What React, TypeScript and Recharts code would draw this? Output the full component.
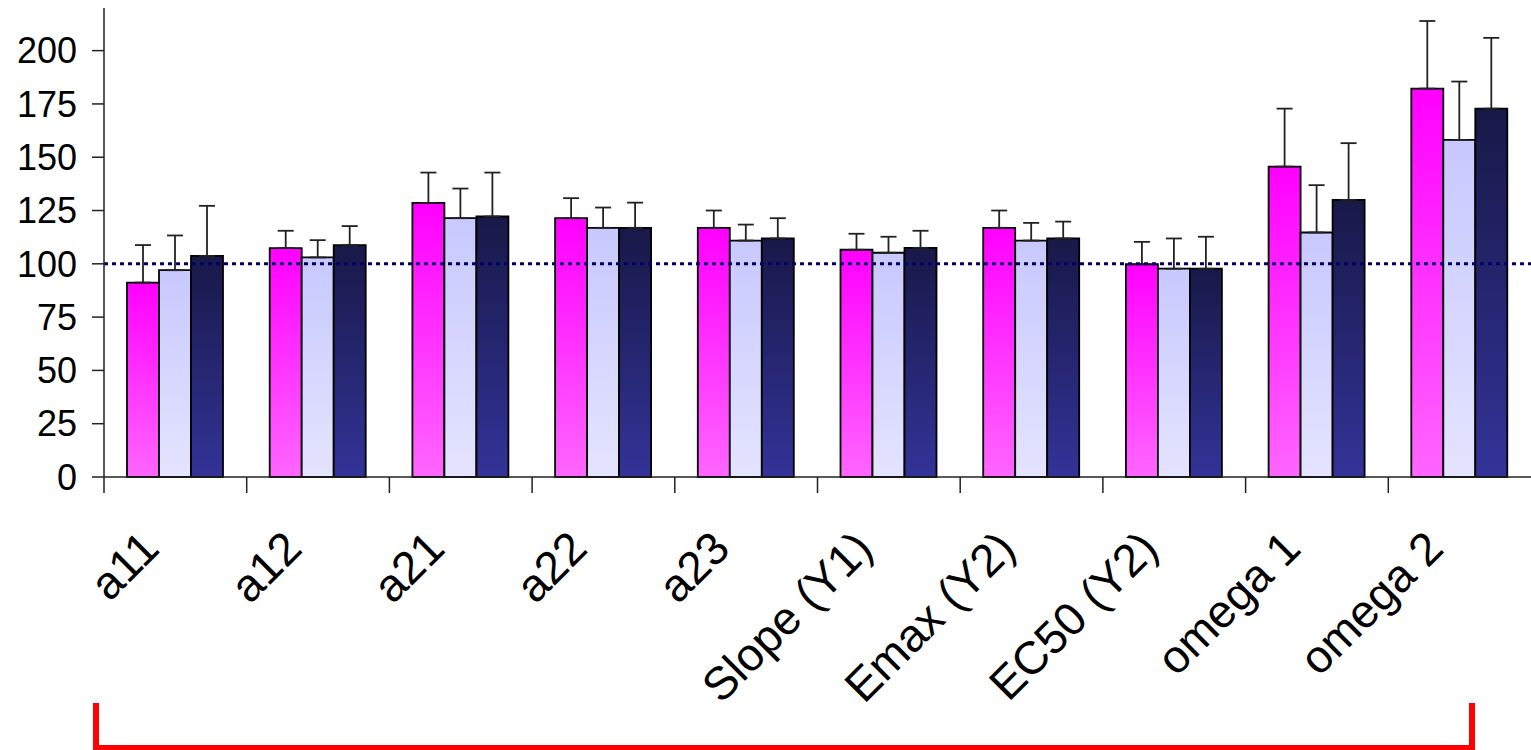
import React from "react"
import { BarChart, Bar, XAxis, YAxis, ErrorBar, ReferenceLine } from "recharts"

const categories = ["a11", "a12", "a21", "a22", "a23", "Slope (Y1)", "Emax (Y2)", "EC50 (Y2)", "omega 1", "omega 2"]

const pinkValues = [91.2, 107.4, 128.6, 121.4, 116.9, 106.6, 116.9, 99.8, 145.6, 182.2]
const pinkErrors = [17.6, 8.1, 14.2, 9.4, 8.1, 7.5, 8.1, 10.5, 27.2, 31.7]

const lilacValues = [97.0, 103.0, 121.4, 116.9, 110.9, 105.2, 110.9, 97.7, 114.7, 158.1]
const lilacErrors = [16.3, 8.1, 13.9, 9.5, 7.5, 7.5, 8.3, 14.2, 22.2, 27.4]

const navyValues = [103.7, 108.8, 122.2, 116.9, 111.9, 107.5, 111.9, 97.7, 130.0, 172.8]
const navyErrors = [23.5, 8.9, 20.6, 11.8, 9.5, 8.0, 7.9, 15.0, 26.6, 33.2]

const yTicks = [0, 25, 50, 75, 100, 125, 150, 175, 200]

const data = categories.map((name, i) => ({
  name,
  pink: pinkValues[i],
  pinkErr: [0, pinkErrors[i]],
  lilac: lilacValues[i],
  lilacErr: [0, lilacErrors[i]],
  navy: navyValues[i],
  navyErr: [0, navyErrors[i]],
}))

const W = 1531
const H = 750
const Y_W = 104
const HALF_BAND = (W - Y_W) / categories.length / 2
const FONT = "'Liberation Sans', Arial, sans-serif"

function CategoryTick(props: any) {
  const { x, y, payload } = props
  const ax = x - 14
  const ay = y + 74
  return (
    <g>
      <line x1={x - HALF_BAND} y1={y} x2={x - HALF_BAND} y2={y + 16} stroke="#222" strokeWidth={1.5} />
      <text
        x={ax}
        y={ay}
        textAnchor="end"
        transform={`rotate(-45, ${ax}, ${ay})`}
        fontSize={46}
        fontFamily={FONT}
        fill="#000"
      >
        {payload.value}
      </text>
    </g>
  )
}

export default function App() {
  return (
    <div style={{ position: "absolute", left: 0, top: 0, width: W, height: H, background: "#fff" }}>
      <BarChart
        width={W}
        height={H}
        data={data}
        margin={{ top: 8, right: 0, left: 0, bottom: 0 }}
        barCategoryGap={23}
        barGap={0}
      >
        <defs>
          <linearGradient id="gPink" x1="0" y1="0" x2="0" y2="1">
            <stop offset="0%" stopColor="#ff00ff" />
            <stop offset="100%" stopColor="#ff66ff" />
          </linearGradient>
          <linearGradient id="gLilac" x1="0" y1="0" x2="0" y2="1">
            <stop offset="0%" stopColor="#c8c8ff" />
            <stop offset="100%" stopColor="#e4e4ff" />
          </linearGradient>
          <linearGradient id="gNavy" x1="0" y1="0" x2="0" y2="1">
            <stop offset="0%" stopColor="#181848" />
            <stop offset="100%" stopColor="#333399" />
          </linearGradient>
        </defs>
        <XAxis
          dataKey="name"
          height={273}
          interval={0}
          tickLine={false}
          tickSize={0}
          tickMargin={0}
          axisLine={{ stroke: "#222", strokeWidth: 1.5 }}
          tick={<CategoryTick />}
        />
        <YAxis
          width={Y_W}
          domain={[0, 220]}
          ticks={yTicks}
          interval={0}
          tickSize={12}
          tickMargin={15}
          axisLine={{ stroke: "#222", strokeWidth: 1.5 }}
          tickLine={{ stroke: "#222", strokeWidth: 1.5 }}
          tick={{ fontSize: 36, fontFamily: FONT, fill: "#000" }}
        />
        <Bar dataKey="pink" fill="url(#gPink)" stroke="#000" strokeWidth={1.8} isAnimationActive={false}>
          <ErrorBar dataKey="pinkErr" direction="y" width={8} stroke="#222" strokeWidth={1.8} />
        </Bar>
        <Bar dataKey="lilac" fill="url(#gLilac)" stroke="#000" strokeWidth={1.8} isAnimationActive={false}>
          <ErrorBar dataKey="lilacErr" direction="y" width={8} stroke="#222" strokeWidth={1.8} />
        </Bar>
        <Bar dataKey="navy" fill="url(#gNavy)" stroke="#000" strokeWidth={1.8} isAnimationActive={false}>
          <ErrorBar dataKey="navyErr" direction="y" width={8} stroke="#222" strokeWidth={1.8} />
        </Bar>
        <ReferenceLine y={100} stroke="#000066" strokeWidth={3} strokeDasharray="4 4" />
      </BarChart>
      <div
        style={{
          position: "absolute",
          left: 93,
          top: 703,
          width: 1475 - 93,
          height: H - 703,
          boxSizing: "border-box",
          borderLeft: "6px solid #ff0000",
          borderRight: "6px solid #ff0000",
          borderBottom: "5px solid #ff0000",
        }}
      />
    </div>
  )
}
